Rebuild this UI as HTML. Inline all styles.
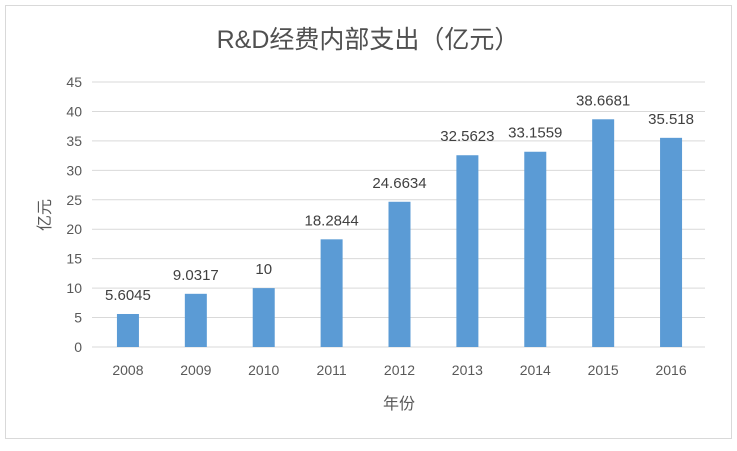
<!DOCTYPE html>
<html><head><meta charset="utf-8"><style>
body{margin:0;background:#fff;}
svg text{font-family:"Liberation Sans","Noto Sans CJK SC",sans-serif;}
</style></head><body>
<svg width="737" height="446">
<rect x="5.5" y="5.5" width="726" height="433" fill="#fff" stroke="#d9d9d9"/>
<text x="368" y="48" text-anchor="middle" font-size="25" fill="#505050">R&amp;D经费内部支出（亿元）</text>
<g id="grid"></g>
<g id="yt"></g>
<g id="bars"></g>
<g id="xt"></g>
<text transform="translate(50,215) rotate(-90)" text-anchor="middle" font-size="16" fill="#595959">亿元</text>
<text x="399" y="409" text-anchor="middle" font-size="16" fill="#595959">年份</text>
</svg>
<script>
const categories=["2008","2009","2010","2011","2012","2013","2014","2015","2016"];
const values=[5.6045,9.0317,10,18.2844,24.6634,32.5623,33.1559,38.6681,35.518];
const labels=["5.6045","9.0317","10","18.2844","24.6634","32.5623","33.1559","38.6681","35.518"];
const yTicks=[0,5,10,15,20,25,30,35,40,45];
const NS="http://www.w3.org/2000/svg";
const x0=94,x1=705,y0=347,y1=82,ymax=45;
const band=(x1-x0)/categories.length;
const ys=v=>y0-(v/ymax)*(y0-y1);
const xc=i=>x0+band*(i+0.5);
function mk(t,a,p,txt){const e=document.createElementNS(NS,t);for(const k in a)e.setAttribute(k,a[k]);if(txt!==undefined)e.textContent=txt;document.getElementById(p).appendChild(e);return e;}
yTicks.forEach(v=>{
 const l=mk('line',{x1:x0-2,x2:x1,y1:ys(v),y2:ys(v),stroke:'#d9d9d9','stroke-width':1},'grid');
 
 
 const t=mk('text',{x:82,y:ys(v)+5,'text-anchor':'end','font-size':14,fill:'#595959'},'yt',String(v));
 
 
});
categories.forEach((c,i)=>{
 const w=22,y=ys(values[i]);
 const r=mk('rect',{x:xc(i)-w/2,y:y,width:w,height:y0-y,fill:'#5b9bd5'},'bars');
 
 
 const t=mk('text',{x:xc(i),y:y-14,'text-anchor':'middle','font-size':15,fill:'#404040'},'bars',labels[i]);
 
 
 const xt=mk('text',{x:xc(i),y:375,'text-anchor':'middle','font-size':14,fill:'#595959'},'xt',c);
 
 
});
</script>
</body></html>
